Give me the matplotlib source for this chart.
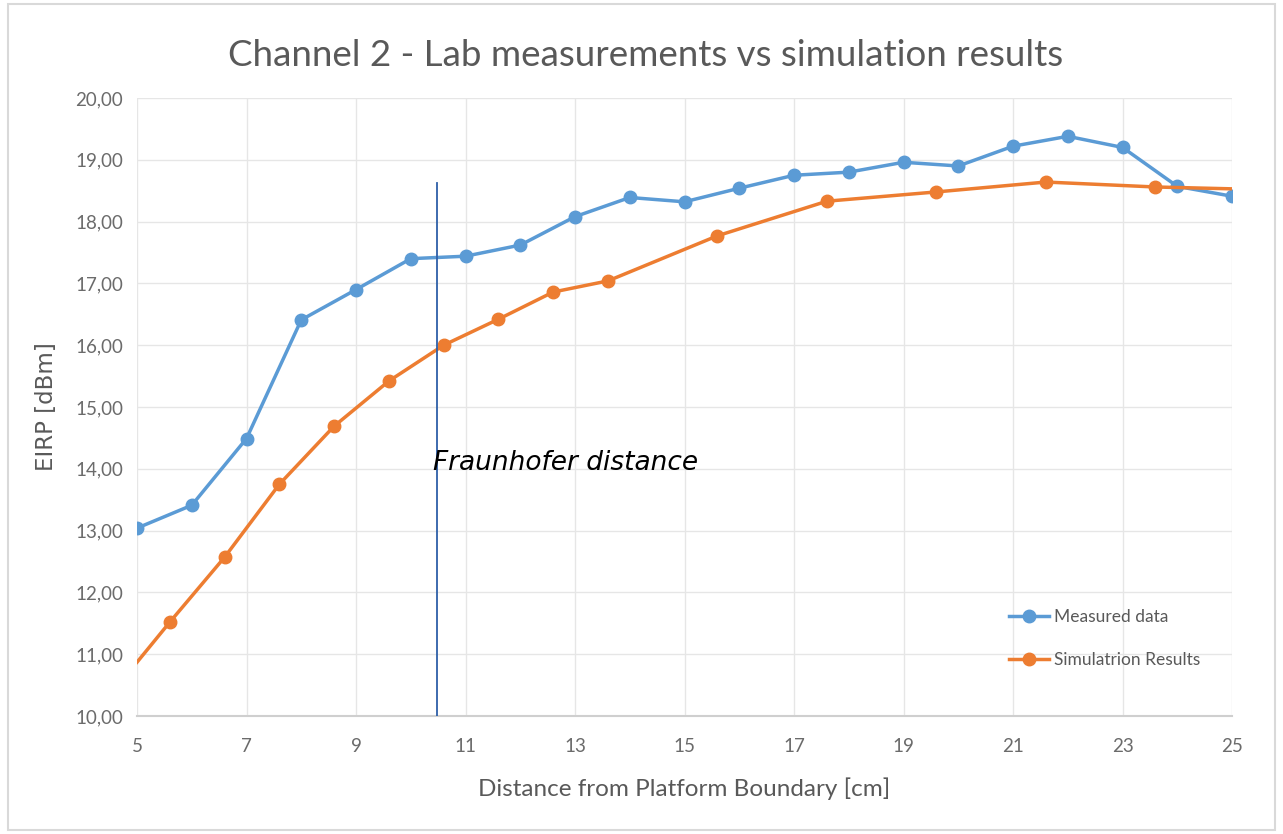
import matplotlib.pyplot as plt
from matplotlib.ticker import FuncFormatter
from matplotlib.patches import Rectangle

# measured EIRP at each integer distance
meas_x = [5, 6, 7, 8, 9, 10, 11, 12, 13, 14, 15, 16, 17, 18, 19, 20, 21, 22, 23, 24, 25]
meas_y = [13.04, 13.41, 14.49, 16.41, 16.90, 17.40, 17.44, 17.62, 18.08, 18.39, 18.32,
          18.54, 18.75, 18.80, 18.96, 18.90, 19.22, 19.38, 19.20, 18.57, 18.41]

# simulation output
sim_x = [5, 5.6, 6.6, 7.6, 8.6, 9.6, 10.6, 11.6, 12.6, 13.6, 15.6, 17.6, 19.6, 21.6, 23.6, 25]
sim_y = [10.87, 11.52, 12.57, 13.75, 14.69, 15.42, 16.00, 16.42, 16.86, 17.04, 17.77,
         18.33, 18.48, 18.64, 18.56, 18.53]

fraunhofer_x = 10.48
fraunhofer_top = 18.62

blue = '#5B9BD5'
orange = '#ED7D31'
grey = '#595959'
tick_grey = '#6b6b6b'

plt.rcParams['font.family'] = ['Lato', 'DejaVu Sans']

fig = plt.figure(figsize=(12.83, 8.34), dpi=100)
fig.patches.append(Rectangle((0.006, 0.005), 0.988, 0.99, transform=fig.transFigure,
                             fill=False, edgecolor='#d9d9d9', lw=1.5))
ax = fig.add_axes([0.1068, 0.1415, 0.8535, 0.741])

ax.plot(meas_x, meas_y, c=blue, lw=2.5, marker='o', ms=9, label='Measured data', zorder=3)
ax.plot(sim_x, sim_y, c=orange, lw=2.5, marker='o', ms=9,
        markevery=list(range(1, len(sim_x) - 1)), label='Simulatrion Results', zorder=3)

ax.plot([fraunhofer_x, fraunhofer_x], [10, fraunhofer_top], c='#2E5FA8', lw=1.3, zorder=4)
ax.text(10.4, 14.1, 'Fraunhofer distance', fontsize=19, style='italic',
        family='DejaVu Sans', color='black', va='center', ha='left', zorder=5)

ax.set_xlim(5, 25)
ax.set_ylim(10, 20)
ax.set_xticks(range(5, 26, 2))
ax.set_yticks(range(10, 21))
ax.yaxis.set_major_formatter(FuncFormatter(lambda v, p: f'{v:.2f}'.replace('.', ',')))
ax.grid(True, color='#e6e6e6', lw=1)
ax.set_axisbelow(True)
for s in ['top', 'right', 'left']:
    ax.spines[s].set_visible(False)
ax.spines['bottom'].set_color('#cfcfcf')
ax.spines['bottom'].set_linewidth(1.5)
ax.tick_params(length=0, labelsize=13.5, colors=tick_grey)
ax.tick_params(axis='x', pad=16)
ax.tick_params(axis='y', pad=10)

fig.text(0.503, 0.934, 'Channel 2 - Lab measurements vs simulation results', fontsize=26.5,
         color=grey, ha='center', va='center')
ax.set_xlabel('Distance from Platform Boundary [cm]', fontsize=17.5, color=grey, labelpad=16)
ax.set_ylabel('EIRP [dBm]', fontsize=16.5, color=grey, family='DejaVu Sans', labelpad=12)

leg = ax.legend(loc='lower right', bbox_to_anchor=(0.985, 0.052), frameon=False,
                fontsize=12.5, labelspacing=1.55, handlelength=2.3, handletextpad=0.3)
for t in leg.get_texts():
    t.set_color(grey)

fig.savefig('out.png', dpi=100)
